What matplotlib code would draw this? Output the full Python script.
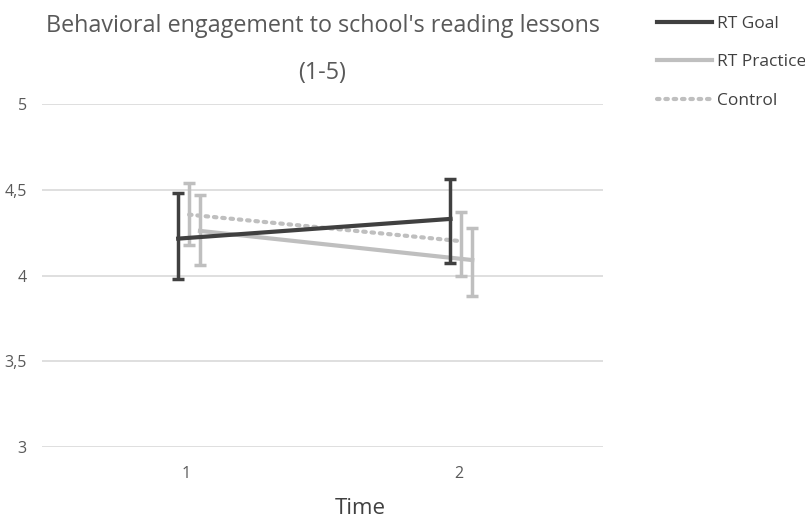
import matplotlib.pyplot as plt

times = [1, 2]
series = ['RT Goal', 'RT Practice', 'Control']
means = {
    'RT Goal': [4.215, 4.33],
    'RT Practice': [4.26, 4.09],
    'Control': [4.355, 4.20],
}
lower = {
    'RT Goal': [3.98, 4.075],
    'RT Practice': [4.06, 3.88],
    'Control': [4.175, 3.995],
}
upper = {
    'RT Goal': [4.48, 4.565],
    'RT Practice': [4.47, 4.275],
    'Control': [4.54, 4.37],
}
offsets = {'RT Goal': -0.03, 'RT Practice': 0.05, 'Control': 0.01}

colors = {'RT Goal': '#404040', 'RT Practice': '#bfbfbf', 'Control': '#bfbfbf'}
styles = {'RT Goal': '-', 'RT Practice': '-', 'Control': (0, (0.6, 1.4))}

plt.rcParams['font.family'] = ['Open Sans', 'DejaVu Sans']

fig = plt.figure(figsize=(8.05, 5.21), dpi=100)
ax = fig.add_axes([42 / 805, 1 - 447 / 521, 561 / 805, 343 / 521])

for s in series:
    xs = [t + offsets[s] for t in times]
    m = means[s]
    err = [[m[i] - lower[s][i] for i in range(2)], [upper[s][i] - m[i] for i in range(2)]]
    ax.errorbar(xs, m, yerr=err, color=colors[s], ecolor=colors[s], elinewidth=2.5,
                capsize=4, capthick=2.5, linewidth=3, linestyle=styles[s],
                dash_capstyle='round', label=s, zorder=3 if s == 'RT Goal' else 2)

ax.set_xlim(0.47, 2.53)
ax.set_ylim(3, 5)
ax.set_yticks([3, 3.5, 4, 4.5, 5])
ax.set_yticklabels(['3', '3,5', '4', '4,5', '5'])
ax.set_xticks(times)
ax.set_xticklabels(['1', '2'])
ax.grid(axis='y', color='#d9d9d9', linewidth=1.2)
ax.set_axisbelow(True)
for sp in ax.spines.values():
    sp.set_visible(False)
ax.tick_params(length=0, colors='#595959', labelsize=11.5, pad=14)
ax.tick_params(axis='y', pad=11)

ax.set_title("Behavioral engagement to school's reading lessons\n(1-5)", color='#595959',
             fontsize=16.8, linespacing=2.3, pad=18)
ax.set_xlabel('Time', color='#404040', fontsize=16)
ax.xaxis.set_label_coords((360 - 42) / 561, -0.15)

handles, labels = ax.get_legend_handles_labels()
handles = [h[0] for h in handles]
fig.legend(handles, labels, loc='upper left', bbox_to_anchor=(641 / 805, 1 - 0 / 521),
           frameon=False, fontsize=12.5, labelcolor='#404040', handlelength=3.2,
           handletextpad=0.3, labelspacing=1.3)

fig.savefig('out.png', dpi=100)
